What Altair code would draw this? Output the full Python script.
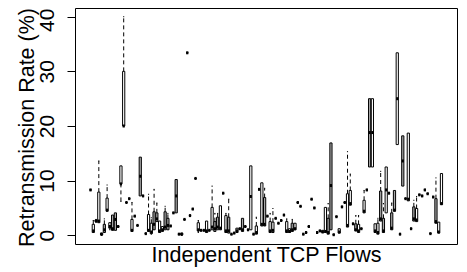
import altair as alt
import pandas as pd

# Per-flow boxplot statistics (retransmission rate, %)
whisker_low = [
    8.3, 0.5, 2.4, 2.3, 0.0, 0.5, 4.4, 1.0, 0.9, 0.9,
    1.6, 6.2, 20, 6.0, 6.7, 0.7, 3.5, 1.8, 7.2, 7.2,
    0.3, 0.7, 0.2, 1.0, 2.5, 0.5, 0.7, 1.0, 1.0, 1.7,
    4.1, 4.1, 0.2, 0.0, 2.9, 33.4, 3.6, 4.8, 10.4, 0.5,
    0.9, 0.9, 0.5, 0.9, 1.0, 0.7, 1.0, 1.0, 7.7, 0.5,
    0.4, 0.2, 0.4, 0.5, 1.2, 0.7, 1.6, 1.0, 1.0, 0.2,
    0.2, 8.4, 1.7, 1.7, 3.5, 0.5, 0.5, 3.1, 2.2, 2.7,
    3.7, 0.5, 0.5, 0.7, 1.0, 6.0, 5.3, 0.2, 0.5, 1.6,
    6.6, 5.0, 0.5, 0.8, 0.5, 0.5, 0.2, 1.0, 0.1, 3.4,
    0.4, 5.2, 6.0, 1.5, 5.5, 2.1, 0.8, 0.5, 1.2, 4.1,
    8.3, 12.5, 12.5, 0.5, 0.2, 2.6, 0.5, 4.1, 7.7, 1.0,
    4.4, 16.6, 0.2, 9.0, 6.7, 6.3, 1.2, 2.6, 2.5, 7.4,
    7.2, 8.3, 7.6, 0.3, 7.0, 2.2, 0.4, 5.6,
]
box_low = [
    8.3, 0.5, 2.5, 2.3, 0.05, 0.5, 4.4, 1.3, 0.9, 0.9,
    1.6, 9.4, 20, 6.0, 6.7, 0.7, 3.5, 1.8, 7.2, 7.2,
    0.3, 0.7, 0.3, 1.0, 2.5, 0.5, 0.7, 1.0, 1.0, 1.7,
    4.1, 4.1, 0.2, 0.05, 2.9, 33.4, 3.6, 4.8, 10.4, 0.8,
    0.9, 0.9, 0.5, 0.9, 1.0, 0.7, 1.0, 1.0, 7.7, 0.5,
    0.4, 0.2, 0.4, 0.5, 1.2, 0.7, 1.6, 1.0, 1.0, 0.2,
    0.2, 8.4, 1.7, 1.7, 3.5, 0.5, 0.5, 3.1, 2.2, 2.7,
    3.7, 0.5, 0.5, 0.7, 1.0, 6.0, 5.3, 0.2, 0.5, 1.6,
    6.6, 5.0, 0.5, 0.8, 0.5, 0.5, 0.2, 1.0, 0.1, 3.4,
    0.4, 5.2, 6.0, 1.5, 5.5, 2.1, 0.8, 0.5, 1.2, 4.1,
    8.3, 12.5, 12.5, 0.5, 0.2, 2.6, 0.5, 4.1, 7.7, 1.0,
    4.4, 16.6, 0.2, 9.0, 6.7, 6.3, 1.2, 2.6, 2.5, 7.4,
    7.2, 8.3, 7.6, 0.3, 7.0, 2.2, 0.4, 5.6,
]
median = [
    8.3, 0.8, 2.6, 2.6, 0.2, 1.0, 4.6, 1.6, 1.2, 2.9,
    1.6, 9.4, 20, 6.0, 6.7, 0.9, 3.5, 1.8, 10.8, 7.2,
    0.3, 0.9, 0.6, 2.0, 3.0, 0.8, 1.0, 1.5, 1.8, 1.7,
    4.1, 7.2, 0.2, 0.2, 2.9, 33.4, 3.6, 4.8, 10.4, 1.0,
    0.9, 0.9, 0.8, 0.9, 1.5, 1.2, 1.5, 1.3, 7.7, 0.8,
    0.8, 0.2, 0.4, 0.8, 1.2, 1.0, 1.6, 1.0, 7.1, 0.2,
    0.5, 8.4, 2.0, 2.0, 3.5, 0.8, 0.9, 3.1, 2.2, 2.7,
    3.7, 0.8, 0.7, 1.0, 1.2, 6.0, 5.3, 0.2, 0.5, 1.6,
    6.6, 5.0, 0.5, 0.8, 0.6, 0.7, 0.5, 9.1, 0.1, 3.4,
    0.6, 5.2, 6.0, 1.8, 5.8, 2.1, 1.0, 0.8, 1.2, 4.4,
    8.3, 18.8, 18.8, 0.8, 0.5, 3.0, 0.8, 8.3, 7.7, 1.3,
    4.6, 25.0, 0.2, 13.6, 6.7, 6.6, 1.2, 3.0, 2.8, 7.4,
    7.2, 8.3, 7.6, 0.3, 7.0, 2.5, 0.6, 5.8,
]
box_high = [
    8.3, 2.0, 2.8, 7.9, 0.4, 2.0, 6.8, 2.3, 3.7, 4.1,
    1.6, 12.7, 30, 6.0, 6.7, 2.9, 3.5, 1.8, 14.3, 7.2,
    0.3, 3.8, 2.2, 4.3, 4.1, 2.6, 1.6, 4.3, 3.1, 1.7,
    4.1, 10.2, 0.2, 0.4, 2.9, 33.4, 3.6, 4.8, 10.4, 2.3,
    0.9, 0.9, 2.6, 0.9, 5.1, 2.5, 3.3, 5.4, 7.7, 3.6,
    3.3, 0.2, 0.4, 1.3, 1.2, 3.1, 1.6, 1.0, 12.7, 0.2,
    1.7, 8.4, 9.6, 6.9, 3.5, 2.5, 2.4, 3.1, 2.2, 2.7,
    3.7, 2.5, 1.2, 2.2, 2.2, 6.0, 5.3, 0.2, 0.5, 1.6,
    6.6, 5.0, 0.5, 0.8, 0.9, 5.1, 3.1, 16.9, 0.1, 3.4,
    1.2, 5.2, 6.0, 7.6, 8.2, 2.1, 2.1, 2.0, 1.2, 6.4,
    8.3, 25, 25, 2.1, 2.2, 8.1, 3.1, 12.5, 7.7, 4.1,
    8.2, 33.4, 0.2, 18.2, 6.7, 18.7, 1.2, 5.2, 4.9, 7.4,
    7.2, 8.3, 7.6, 0.3, 7.0, 6.7, 2.4, 11.3,
]
whisker_high = [
    8.3, 2.7, 2.9, 13.6, 0.4, 3.0, 9.2, 2.3, 3.7, 4.1,
    1.6, 12.7, 40, 6.0, 6.7, 6.0, 3.5, 1.8, 14.3, 7.2,
    0.3, 7.5, 3.2, 8.4, 5.9, 2.6, 1.6, 5.3, 4.0, 1.7,
    4.1, 10.2, 0.2, 0.4, 2.9, 33.4, 3.6, 4.8, 10.4, 2.7,
    0.9, 0.9, 2.6, 0.9, 9.0, 4.0, 4.0, 5.4, 7.7, 4.0,
    6.6, 0.2, 0.4, 1.3, 1.2, 3.1, 1.6, 1.0, 12.7, 0.2,
    3.3, 8.4, 9.6, 8.6, 3.5, 4.0, 4.9, 3.1, 2.2, 2.7,
    3.7, 3.0, 1.2, 2.9, 2.2, 6.0, 5.3, 0.2, 0.5, 1.6,
    6.6, 5.0, 0.5, 0.8, 0.9, 5.1, 5.8, 16.9, 0.1, 3.4,
    1.2, 5.2, 6.0, 15.3, 11.2, 2.1, 3.6, 3.6, 1.2, 8.2,
    8.3, 25, 25, 2.1, 3.1, 11.7, 5.8, 12.5, 7.7, 5.9,
    8.2, 33.4, 0.2, 18.2, 6.7, 18.7, 1.2, 6.4, 7.1, 7.4,
    7.2, 8.3, 7.6, 0.3, 7.0, 10.5, 2.4, 11.3,
]
# box fill per flow: w = white, g = grey
fill_code = list(
    "wwgwggwwgg" "gwwwgwgggg"
    "wwwggwwggg" "ggwwwwwwww"
    "wwwwwggwww" "gggwwgggww"
    "wwwggwwwww" "wwwgwwwwww"
    "wwwwgwggww" "wwwwwwgwww"
    "wgwwwggwwg" "gwwgwwwgww"
    "wwwwwgww"
)

n = len(median)
df = pd.DataFrame({
    "flow": list(range(1, n + 1)),
    "wlo": whisker_low, "q1": box_low, "med": median,
    "q3": box_high, "whi": whisker_high, "fill": fill_code,
})

FONT = "Liberation Sans"
xs = alt.Scale(domain=[0.5 - 0.04 * n, n + 0.5 + 0.04 * n], nice=False, zero=False)
ys = alt.Scale(domain=[-1.6, 41.6], nice=False, zero=False)

x_axis = alt.Axis(title="Independent TCP Flows", labels=False, ticks=False,
                  domain=False, grid=False, titleFont=FONT, titleFontSize=21.5,
                  titleFontWeight="normal", titleColor="black",
                  titleX=191, titleY=17.5, titleBaseline="alphabetic",
                  titleAlign="center")
y_axis = alt.Axis(title="Retransmission Rate (%)", values=[0, 10, 20, 30, 40],
                  domain=False, grid=False, tickSize=8, tickColor="black",
                  labelAngle=270, labelFont=FONT, labelFontSize=21,
                  labelColor="black", labelPadding=14, labelAlign="center",
                  labelBaseline="alphabetic",
                  labelOffset={"condition": {"test": "datum.value == 40", "value": 3}, "value": 0},
                  titleAngle=270, titleFont=FONT, titleFontSize=21.5,
                  titleFontWeight="normal", titleColor="black",
                  titleX=-42, titleY=119, titleAlign="center",
                  titleBaseline="alphabetic")

base = alt.Chart(df).transform_calculate(
    x0="datum.flow - 0.4", x1="datum.flow + 0.4",
    s0="datum.flow - 0.2", s1="datum.flow + 0.2",
)

X = alt.X("flow:Q", scale=xs, axis=x_axis)

upper = base.transform_filter("datum.whi > datum.q3").mark_rule(
    color="black", strokeWidth=1, strokeDash=[4, 3]
).encode(x=X, y=alt.Y("q3:Q", scale=ys, axis=y_axis), y2="whi:Q")

lower = base.transform_filter("datum.wlo < datum.q1").mark_rule(
    color="black", strokeWidth=1, strokeDash=[4, 3]
).encode(x=X, y=alt.Y("wlo:Q", scale=ys, axis=y_axis), y2="q1:Q")

staple_hi = base.transform_filter("datum.whi > datum.q3").mark_rule(
    color="black", strokeWidth=1
).encode(x=alt.X("s0:Q", scale=xs, axis=x_axis), x2="s1:Q",
         y=alt.Y("whi:Q", scale=ys, axis=y_axis))

staple_lo = base.transform_filter("datum.wlo < datum.q1").mark_rule(
    color="black", strokeWidth=1
).encode(x=alt.X("s0:Q", scale=xs, axis=x_axis), x2="s1:Q",
         y=alt.Y("wlo:Q", scale=ys, axis=y_axis))

boxes = base.mark_rect(stroke="black", strokeWidth=1).encode(
    x=alt.X("x0:Q", scale=xs, axis=x_axis), x2="x1:Q",
    y=alt.Y("q1:Q", scale=ys, axis=y_axis), y2="q3:Q",
    fill=alt.Fill("fill:N", scale=alt.Scale(domain=["w", "g"], range=["#ffffff", "#a8a8a8"]), legend=None),
)

medians = base.mark_rule(color="black", strokeWidth=3).encode(
    x=alt.X("x0:Q", scale=xs, axis=x_axis), x2="x1:Q",
    y=alt.Y("med:Q", scale=ys, axis=y_axis),
)

chart = alt.layer(upper, lower, staple_hi, staple_lo, boxes, medians).properties(
    width=382, height=236,
    autosize=alt.AutoSizeParams(type="none"),
    padding={"left": 67, "top": 0, "right": 2, "bottom": 26},
    background="white",
).configure_view(stroke="black", strokeWidth=1)

chart.save("out.html", embed_options={"renderer": "svg", "actions": False})
